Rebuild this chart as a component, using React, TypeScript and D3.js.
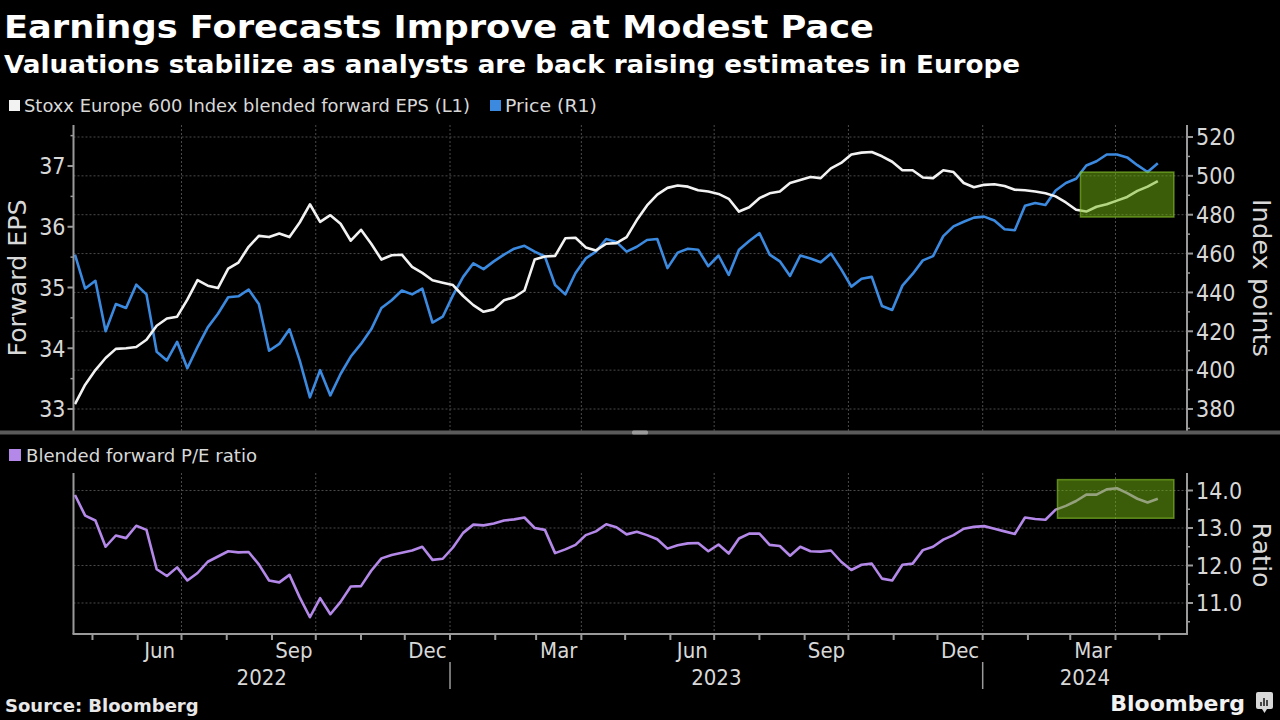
import React from "react";
import * as d3 from "d3";

// ---------- DATA (weekly samples) ----------
const startDate = "2022-04-19";

const epsValues = [
  33.08, 33.4, 33.64, 33.84, 33.99, 34.0, 34.02, 34.14, 34.37, 34.49,
  34.52, 34.8, 35.12, 35.03, 34.99, 35.31, 35.41, 35.67, 35.85, 35.83,
  35.89, 35.83, 36.07, 36.37, 36.08, 36.19, 36.05, 35.77, 35.95, 35.72,
  35.46, 35.53, 35.54, 35.34, 35.24, 35.12, 35.08,
  35.04, 34.86, 34.71, 34.6, 34.64, 34.79, 34.84, 34.95, 35.46, 35.51,
  35.52, 35.81, 35.82, 35.66, 35.61, 35.72, 35.73, 35.83, 36.11, 36.35,
  36.53, 36.64, 36.68, 36.66, 36.6, 36.58, 36.54, 36.46, 36.25, 36.32,
  36.47, 36.55, 36.58, 36.72, 36.77, 36.82,
  36.8, 36.96, 37.05, 37.19, 37.22, 37.23, 37.16, 37.07, 36.93, 36.93,
  36.81, 36.8, 36.93, 36.9, 36.72, 36.65, 36.69, 36.7, 36.67, 36.61,
  36.6, 36.58, 36.55, 36.5, 36.4, 36.28, 36.25, 36.33, 36.37, 36.43,
  36.49, 36.59, 36.66, 36.75,
];

const priceValues = [
  459.5, 442, 446, 420, 434, 432, 444, 439, 409.5, 405,
  414.6, 401, 412, 422, 429, 437.5, 438, 441.5, 434, 410,
  413.5, 421, 405, 386, 400, 387, 398, 407, 413.5, 421,
  432, 436, 441, 439, 442, 424.5, 427.5,
  438.5, 448, 455, 452, 456, 459.5, 462.5, 464, 461, 458.5,
  443.8, 439, 450, 457.5, 461, 467.5, 466, 461, 463.5, 467,
  467.5, 452.5, 460.5, 462.5, 462, 453.5, 459, 449, 462, 466.5,
  470.5, 459.5, 456, 448.5, 459, 457.5,
  455.5, 460, 452, 443, 447, 448, 433, 431, 443.5, 449.5,
  456.5, 458.7, 469, 474, 476.4, 478.5, 479, 477, 472.5, 472,
  484.6, 486, 485, 492.5, 496.3, 498.5, 505.3, 507.5, 511, 511,
  509.5, 505.5, 502, 506.5,
];

const peValues = [
  13.88, 13.33, 13.2, 12.5, 12.8, 12.73, 13.06, 12.95, 11.9, 11.72,
  11.95, 11.6, 11.8, 12.1, 12.24, 12.38, 12.35, 12.36, 12.03, 11.6,
  11.55, 11.75, 11.15, 10.62, 11.13, 10.7, 11.03, 11.44, 11.45, 11.86,
  12.19, 12.28, 12.34, 12.4, 12.5, 12.15, 12.18, 12.48, 12.87, 13.09,
  13.07, 13.12, 13.2, 13.23, 13.28, 13.0, 12.95, 12.33, 12.43, 12.55,
  12.81, 12.91, 13.1, 13.02, 12.83,
  12.9, 12.81, 12.7, 12.45, 12.54, 12.59, 12.6, 12.38, 12.56, 12.32,
  12.72, 12.85, 12.85, 12.55, 12.52, 12.26, 12.5, 12.38, 12.37, 12.4,
  12.1, 11.88, 12.02, 12.05, 11.65, 11.6, 12.02, 12.05, 12.41, 12.5,
  12.69, 12.81, 12.98, 13.03, 13.05, 12.98, 12.91, 12.84, 13.28, 13.24,
  13.22, 13.49, 13.59, 13.72, 13.89, 13.89, 14.03, 14.06, 13.93, 13.78,
  13.68, 13.78,
];

const epsTicks = [33, 34, 35, 36, 37];
const priceTicks = [380, 400, 420, 440, 460, 480, 500, 520];
const peTicks = [11, 12, 13, 14];
const peTickLabels = ["11.0", "12.0", "13.0", "14.0"];
const labelMonths = ["2022-06", "2022-09", "2022-12", "2023-03", "2023-06", "2023-09", "2023-12", "2024-03"];
const yearLabels = ["2022", "2023", "2024"];

// highlighted windows
const highlightDates = ["2024-03-08", "2024-05-11"];
const highlightEps = [36.16, 36.9];
const highlightPe = [13.26, 14.29];

const titleText = "Earnings Forecasts Improve at Modest Pace";
const subtitleText = "Valuations stabilize as analysts are back raising estimates in Europe";
const legendTop = ["Stoxx Europe 600 Index blended forward EPS (L1)", "Price (R1)"];
const legendBottom = "Blended forward P/E ratio";

// ---------- LAYOUT ----------
const X0 = 73.5;
const X1 = 1187;
const TOP_Y0 = 125;
const TOP_Y1 = 431;
const BOT_Y0 = 473;
const BOT_Y1 = 634;

const COND = "'DejaVu Sans Condensed', 'DejaVu Sans', sans-serif";
const REG = "'DejaVu Sans', sans-serif";
const BOLD = "'DejaVu Sans', sans-serif";
const WHITE = "#f2f2f2";
const BLUE = "#3b8ae0";
const PURPLE = "#b488e8";
const GRID = "#4a4a4a";
const AXIS = "#9a9a9a";
const TICKTXT = "#d8d8d8";

const parseUTC = (s: string) => {
  const [y, m, d] = s.split("-").map(Number);
  return new Date(Date.UTC(y, m - 1, d || 1));
};

export default function App() {
  const start = parseUTC(startDate);
  const dates = epsValues.map((_, i) => d3.utcDay.offset(start, 7 * i));

  const x = d3
    .scaleUtc()
    .domain([new Date(Date.UTC(2022, 3, 18)), new Date(Date.UTC(2024, 4, 20))])
    .range([X0, X1]);
  const yEps = d3.scaleLinear().domain([33, 37]).range([409, 166]);
  const yPrice = d3.scaleLinear().domain([380, 520]).range([409, 137]);
  const yPe = d3.scaleLinear().domain([11, 14]).range([603, 490.5]);

  const mkLine = (vals: number[], y: d3.ScaleLinear<number, number>) =>
    d3
      .line<number>()
      .x((_, i) => x(dates[i]))
      .y((v) => y(v))(vals) || "";

  const quarterTicks = x.ticks(d3.utcMonth.every(3)!);
  const monthTicks = x.ticks(d3.utcMonth.every(1)!);
  const [dStart, dEnd] = x.domain();
  const fmtMonth = d3.utcFormat("%b");

  const epsMinor = d3.range(33, 37.51, 0.5).filter((v) => !epsTicks.includes(v));
  const priceMinor = d3.range(370, 525, 10).filter((v) => !priceTicks.includes(v));
  const peMinor = d3.range(10.5, 14.5, 0.5).filter((v) => !peTicks.includes(v));

  const hx0 = x(parseUTC(highlightDates[0]));
  const hx1 = x(parseUTC(highlightDates[1]));

  return (
    <div style={{ position: "fixed", left: 0, top: 0, width: 1280, height: 720, background: "#000" }}>
      <svg width={1280} height={720} viewBox="0 0 1280 720" style={{ display: "block" }}>
        <defs>
          <clipPath id="clipTop">
            <rect x={X0} y={TOP_Y0} width={X1 - X0} height={TOP_Y1 - TOP_Y0} />
          </clipPath>
          <clipPath id="clipBot">
            <rect x={X0} y={BOT_Y0} width={X1 - X0} height={BOT_Y1 - BOT_Y0} />
          </clipPath>
        </defs>
        <rect x={0} y={0} width={1280} height={720} fill="#000" />

        {/* Titles */}
        <text x={4} y={38} fill="#fff" fontFamily={BOLD} fontWeight="bold" fontSize={32} textLength={870} lengthAdjust="spacingAndGlyphs">
          {titleText}
        </text>
        <text x={4} y={73} fill="#fff" fontFamily={BOLD} fontWeight="bold" fontSize={24} textLength={1016} lengthAdjust="spacingAndGlyphs">
          {subtitleText}
        </text>

        {/* Top legend */}
        <rect x={9} y={100} width={11} height={11} fill={WHITE} />
        <text x={24} y={112} fill={TICKTXT} fontFamily={REG} fontSize={18} textLength={446} lengthAdjust="spacingAndGlyphs">
          {legendTop[0]}
        </text>
        <rect x={490} y={100} width={11} height={11} fill={BLUE} />
        <text x={505} y={112} fill={TICKTXT} fontFamily={REG} fontSize={18} textLength={92} lengthAdjust="spacingAndGlyphs">
          {legendTop[1]}
        </text>

        {/* Top panel grid */}
        {priceTicks.map((t) => (
          <line key={"hg" + t} x1={X0} x2={X1} y1={yPrice(t)} y2={yPrice(t)} stroke={GRID} strokeDasharray="2,2" strokeWidth={1} />
        ))}
        {quarterTicks.map((d) => (
          <line key={"vg" + +d} x1={x(d)} x2={x(d)} y1={TOP_Y0} y2={TOP_Y1} stroke={GRID} strokeDasharray="2,2" strokeWidth={1} />
        ))}

        {/* Top lines */}
        <g clipPath="url(#clipTop)">
          <path d={mkLine(priceValues, yPrice)} fill="none" stroke={BLUE} strokeWidth={2.6} strokeLinejoin="round" />
          <path d={mkLine(epsValues, yEps)} fill="none" stroke={WHITE} strokeWidth={2.6} strokeLinejoin="round" />
        </g>
        <rect
          x={hx0}
          y={yEps(highlightEps[1])}
          width={hx1 - hx0}
          height={yEps(highlightEps[0]) - yEps(highlightEps[1])}
          fill="rgb(118,185,18)"
          fillOpacity={0.5}
          stroke="rgb(140,200,45)"
          strokeOpacity={0.6}
          strokeWidth={1.5}
        />

        {/* Top left axis */}
        <line x1={X0} x2={X0} y1={TOP_Y0} y2={TOP_Y1} stroke={AXIS} strokeWidth={2} />
        {epsTicks.map((t) => (
          <g key={"el" + t}>
            <line x1={X0 - 6} x2={X0} y1={yEps(t)} y2={yEps(t)} stroke={AXIS} strokeWidth={2} />
            <text x={X0 - 8} y={yEps(t)} dy="0.36em" textAnchor="end" fill={TICKTXT} fontFamily={COND} fontSize={23}>
              {t}
            </text>
          </g>
        ))}
        {epsMinor.map((t) => (
          <line key={"em" + t} x1={X0 - 3} x2={X0} y1={yEps(t)} y2={yEps(t)} stroke={AXIS} strokeWidth={1.5} />
        ))}
        <text transform="translate(26,278) rotate(-90)" textAnchor="middle" fill={TICKTXT} fontFamily={REG} fontSize={24} textLength={157} lengthAdjust="spacingAndGlyphs">
          Forward EPS
        </text>

        {/* Top right axis */}
        <line x1={X1} x2={X1} y1={TOP_Y0} y2={TOP_Y1} stroke={AXIS} strokeWidth={2} />
        {priceTicks.map((t) => (
          <g key={"pr" + t}>
            <line x1={X1} x2={X1 + 6} y1={yPrice(t)} y2={yPrice(t)} stroke={AXIS} strokeWidth={2} />
            <text x={X1 + 9} y={yPrice(t)} dy="0.36em" fill={TICKTXT} fontFamily={COND} fontSize={23}>
              {t}
            </text>
          </g>
        ))}
        {priceMinor.map((t) => (
          <line key={"pm" + t} x1={X1} x2={X1 + 3} y1={yPrice(t)} y2={yPrice(t)} stroke={AXIS} strokeWidth={1.5} />
        ))}
        <text transform="translate(1253,278) rotate(90)" textAnchor="middle" fill={TICKTXT} fontFamily={REG} fontSize={24} textLength={158} lengthAdjust="spacingAndGlyphs">
          Index points
        </text>

        {/* Separator */}
        <rect x={0} y={430.5} width={1280} height={4} fill="#5a5a5a" />
        <rect x={632} y={430.5} width={16} height={4} rx={1.5} fill="#9a9a9a" />

        {/* Bottom legend */}
        <rect x={9} y={449} width={12} height={12} fill={PURPLE} />
        <text x={26} y={462} fill={TICKTXT} fontFamily={REG} fontSize={18} textLength={231} lengthAdjust="spacingAndGlyphs">
          {legendBottom}
        </text>

        {/* Bottom grid */}
        {peTicks.map((t) => (
          <line key={"bg" + t} x1={X0} x2={X1} y1={yPe(t)} y2={yPe(t)} stroke={GRID} strokeDasharray="2,2" strokeWidth={1} />
        ))}
        {quarterTicks.map((d) => (
          <line key={"bvg" + +d} x1={x(d)} x2={x(d)} y1={BOT_Y0} y2={BOT_Y1} stroke={GRID} strokeDasharray="2,2" strokeWidth={1} />
        ))}

        <g clipPath="url(#clipBot)">
          <path d={mkLine(peValues, yPe)} fill="none" stroke={PURPLE} strokeWidth={2.6} strokeLinejoin="round" />
        </g>
        <rect
          x={x(parseUTC(highlightDates[0])) - 23}
          y={yPe(highlightPe[1])}
          width={hx1 - hx0 + 23}
          height={yPe(highlightPe[0]) - yPe(highlightPe[1])}
          fill="rgb(118,185,18)"
          fillOpacity={0.5}
          stroke="rgb(140,200,45)"
          strokeOpacity={0.6}
          strokeWidth={1.5}
        />

        {/* Bottom axes */}
        <line x1={X0} x2={X0} y1={BOT_Y0} y2={BOT_Y1} stroke={AXIS} strokeWidth={2} />
        <line x1={X1} x2={X1} y1={BOT_Y0} y2={BOT_Y1} stroke={AXIS} strokeWidth={2} />
        <line x1={X0 - 1} x2={X1 + 1} y1={BOT_Y1} y2={BOT_Y1} stroke={AXIS} strokeWidth={2} />
        {peTicks.map((t, i) => (
          <g key={"pt" + t}>
            <line x1={X1} x2={X1 + 6} y1={yPe(t)} y2={yPe(t)} stroke={AXIS} strokeWidth={2} />
            <text x={X1 + 9} y={yPe(t)} dy="0.36em" fill={TICKTXT} fontFamily={COND} fontSize={23}>
              {peTickLabels[i]}
            </text>
          </g>
        ))}
        {peMinor.map((t) => (
          <line key={"pem" + t} x1={X1} x2={X1 + 3} y1={yPe(t)} y2={yPe(t)} stroke={AXIS} strokeWidth={1.5} />
        ))}
        <text transform="translate(1253,555) rotate(90)" textAnchor="middle" fill={TICKTXT} fontFamily={REG} fontSize={24} textLength={65} lengthAdjust="spacingAndGlyphs">
          Ratio
        </text>

        {/* Month ticks */}
        {monthTicks.map((d) => (
          <line key={"mt" + +d} x1={x(d)} x2={x(d)} y1={BOT_Y1} y2={BOT_Y1 + 6} stroke={AXIS} strokeWidth={2} />
        ))}
        {labelMonths.map((m) => {
          const d0 = parseUTC(m);
          const d1 = d3.utcMonth.offset(d0, 1);
          const cx = (x(d0) + x(d1)) / 2;
          return (
            <text key={"ml" + m} x={cx} y={658} textAnchor="middle" fill={TICKTXT} fontFamily={COND} fontSize={22}>
              {fmtMonth(d0)}
            </text>
          );
        })}
        {yearLabels.map((yl) => {
          const y0 = new Date(Date.UTC(+yl, 0, 1));
          const y1 = new Date(Date.UTC(+yl + 1, 0, 1));
          const a = x(y0 < dStart ? dStart : y0);
          const b = x(y1 > dEnd ? dEnd : y1);
          return (
            <g key={"yl" + yl}>
              {y0 > dStart && <line x1={x(y0)} x2={x(y0)} y1={662} y2={689} stroke={AXIS} strokeWidth={1.5} />}
              <text x={(a + b) / 2} y={685} textAnchor="middle" fill={TICKTXT} fontFamily={COND} fontSize={22}>
                {yl}
              </text>
            </g>
          );
        })}

        {/* Footer */}
        <text x={5} y={712} fill="#e8e8e8" fontFamily={BOLD} fontWeight="bold" fontSize={18}>
          Source: Bloomberg
        </text>
        <text x={1245} y={711} textAnchor="end" fill="#f2f2f2" fontFamily={BOLD} fontWeight="bold" fontSize={22}>
          Bloomberg
        </text>
        <g>
          <rect x={1256} y={692} width={17} height={17} rx={2} fill="#d8d8d8" />
          <path d="M1261,706 v-4 M1264,706 v-8 M1267,706 v-6" stroke="#222" strokeWidth={1.6} />
          <path d="M1262,709 l2.5,4 l2.5,-4 z" fill="#d8d8d8" />
        </g>
      </svg>
    </div>
  );
}
